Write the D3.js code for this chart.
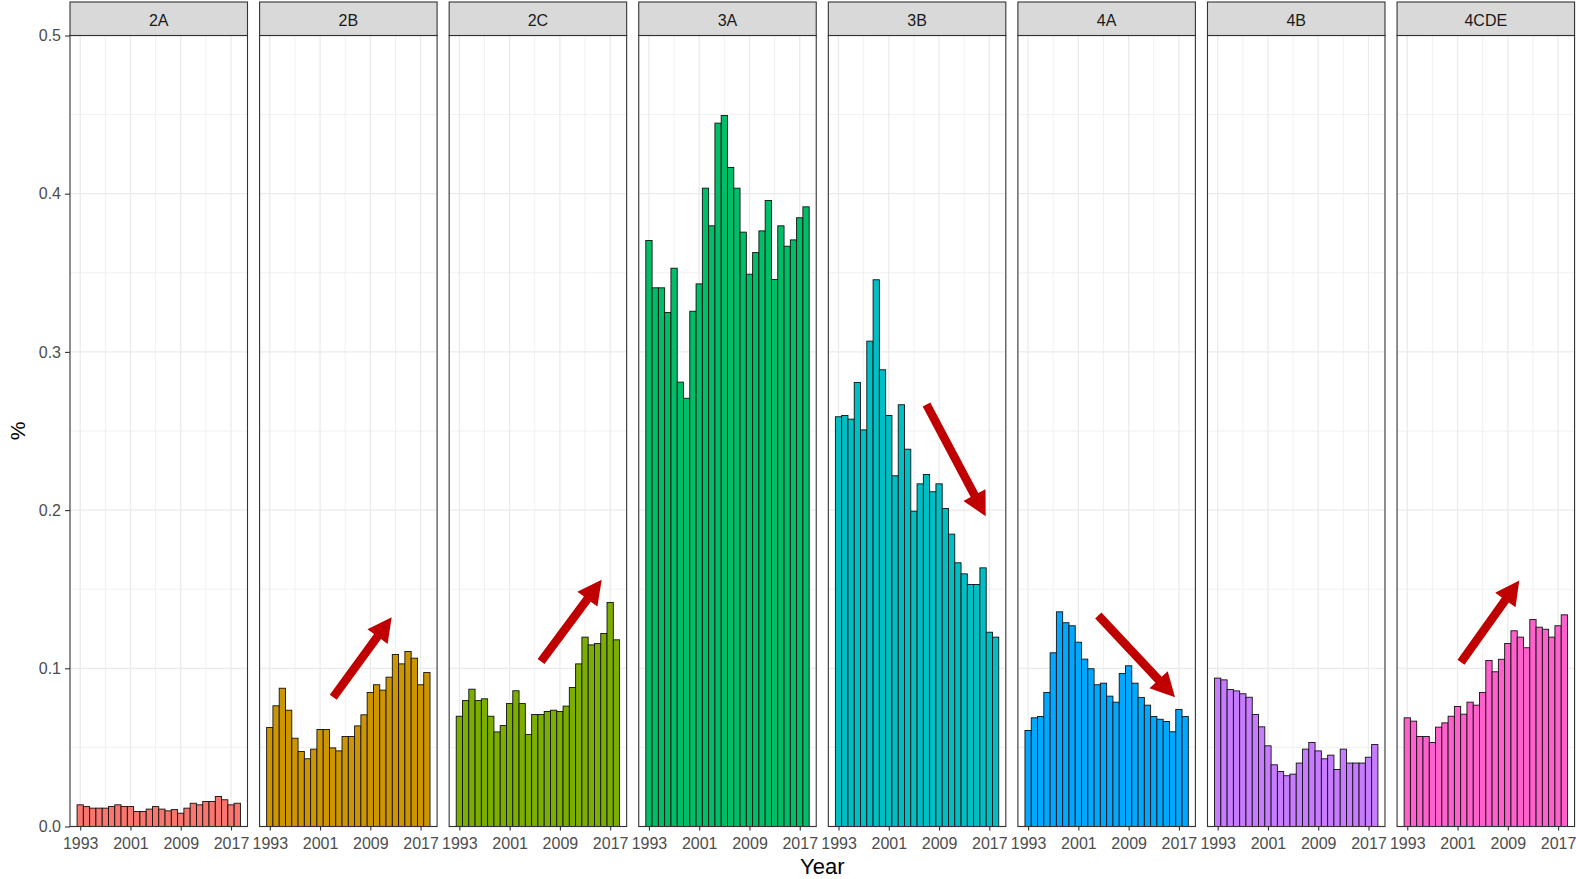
<!DOCTYPE html>
<html>
<head>
<meta charset="utf-8">
<script src="https://cdn.jsdelivr.net/npm/d3@7"></script>
<style>
  body { margin: 0; background: #fff; }
  svg { display: block; }
  text { font-family: "Liberation Sans", Arial, sans-serif; }
</style>
</head>
<body>
<svg id="chart" width="1576" height="879"></svg>
<script>
// ---- data ----
const years = [1993, 1994, 1995, 1996, 1997, 1998, 1999, 2000, 2001, 2002, 2003, 2004, 2005,
               2006, 2007, 2008, 2009, 2010, 2011, 2012, 2013, 2014, 2015, 2016, 2017, 2018];

const panels = ["2A", "2B", "2C", "3A", "3B", "4A", "4B", "4CDE"];

const share2A = [0.0137, 0.0126, 0.0116, 0.0116, 0.0116, 0.0126, 0.0137, 0.0126, 0.0126, 0.0095,
                 0.0095, 0.0110, 0.0126, 0.0110, 0.0099, 0.0107, 0.0084, 0.0116, 0.0147, 0.0137,
                 0.0158, 0.0158, 0.0190, 0.0169, 0.0137, 0.0147];
const share2B = [0.0626, 0.0763, 0.0874, 0.0735, 0.0558, 0.0474, 0.0428, 0.0489, 0.0613, 0.0613,
                 0.0497, 0.0478, 0.0569, 0.0569, 0.0636, 0.0706, 0.0847, 0.0896, 0.0862, 0.0944,
                 0.1087, 0.1028, 0.1106, 0.1064, 0.0896, 0.0973];
const share2C = [0.0697, 0.0796, 0.0868, 0.0796, 0.0807, 0.0697, 0.0598, 0.0638, 0.0777, 0.0858,
                 0.0777, 0.0582, 0.0708, 0.0708, 0.0727, 0.0735, 0.0727, 0.0761, 0.0879, 0.1028,
                 0.1197, 0.1148, 0.1157, 0.1220, 0.1416, 0.1180];
const share3A = [0.3704, 0.3405, 0.3405, 0.3249, 0.3529, 0.2809, 0.2707, 0.3257, 0.3430, 0.4035,
                 0.3797, 0.4446, 0.4494, 0.4166, 0.4035, 0.3757, 0.3491, 0.3628, 0.3765, 0.3957,
                 0.3458, 0.3797, 0.3668, 0.3708, 0.3848, 0.3917];
const share3B = [0.2590, 0.2598, 0.2575, 0.2807, 0.2507, 0.3068, 0.3456, 0.2887, 0.2598, 0.2217,
                 0.2666, 0.2385, 0.1993, 0.2166, 0.2225, 0.2116, 0.2166, 0.2010, 0.1848, 0.1667,
                 0.1597, 0.1530, 0.1530, 0.1635, 0.1228, 0.1197];
const share4A = [0.0607, 0.0687, 0.0695, 0.0847, 0.1098, 0.1357, 0.1288, 0.1269, 0.1165, 0.1058,
                 0.0997, 0.0896, 0.0906, 0.0824, 0.0786, 0.0967, 0.1016, 0.0906, 0.0816, 0.0767,
                 0.0695, 0.0678, 0.0664, 0.0599, 0.0740, 0.0695];
const share4B = [0.0938, 0.0927, 0.0866, 0.0857, 0.0839, 0.0817, 0.0708, 0.0630, 0.0510, 0.0390,
                 0.0348, 0.0321, 0.0331, 0.0401, 0.0489, 0.0531, 0.0478, 0.0428, 0.0451, 0.0360,
                 0.0489, 0.0401, 0.0401, 0.0401, 0.0438, 0.0518];
const share4CDE = [0.0687, 0.0666, 0.0569, 0.0569, 0.0531, 0.0628, 0.0655, 0.0697, 0.0759, 0.0710,
                   0.0786, 0.0767, 0.0847, 0.1049, 0.0978, 0.1057, 0.1157, 0.1237, 0.1197, 0.1130,
                   0.1308, 0.1260, 0.1247, 0.1197, 0.1269, 0.1338];

const seriesValues = [share2A, share2B, share2C, share3A, share3B, share4A, share4B, share4CDE];

const xTickLabels = [1993, 2001, 2009, 2017];
const xMinorBreaks = [1997, 2005, 2013];
const yTickLabels = [0.0, 0.1, 0.2, 0.3, 0.4, 0.5];
const yMinorBreaks = [0.05, 0.15, 0.25, 0.35, 0.45];

// trend arrows, given in data units (year, share) within a facet
const trendArrows = [
  { panel: "2B",   from: [2003.1, 0.0817], to: [2012.4, 0.1323] },
  { panel: "2C",   from: [2006.0, 0.1043], to: [2015.65, 0.1559] },
  { panel: "3B",   from: [2007.0, 0.2668], to: [2016.42, 0.1961] },
  { panel: "4A",   from: [2004.17, 0.1334], to: [2016.38, 0.0817] },
  { panel: "4CDE", from: [2001.55, 0.1039], to: [2010.83, 0.1555] }
];

// ---- styling / layout ----
const palette = ["#F8766D", "#CD9600", "#7CAE00", "#00BE67", "#00BFC4", "#00A9FF", "#C77CFF", "#FF61CC"];
const firstLeft = 70, panelW = 177.5, panelGap = 12.08;
const stripTop = 2, panelTop = 35.5, panelBottom = 826.5;
const arrowColor = "#C00000";

const svg = d3.select("#chart");

const y = d3.scaleLinear().domain([0, 0.5]).range([panelBottom, panelTop]);
const x = d3.scaleLinear().domain([years[0] - 0.5 - 1.125, years[years.length - 1] + 0.5 + 1.125])
            .range([0, panelW]);
const plotRight = firstLeft + panels.length * panelW + (panels.length - 1) * panelGap;
const panelX = d3.scaleBand().domain(panels)
                 .range([firstLeft, plotRight])
                 .paddingInner(panelGap / (panelW + panelGap)).paddingOuter(0);

panels.forEach((name, i) => {
  const g = svg.append("g").attr("transform", `translate(${panelX(name)},0)`);

  // background grid
  const grid = g.append("g");
  grid.selectAll("line.ymin").data(yMinorBreaks).join("line")
    .attr("x1", 0).attr("x2", panelW).attr("y1", d => y(d)).attr("y2", d => y(d))
    .attr("stroke", "#EBEBEB").attr("stroke-width", 0.7);
  grid.selectAll("line.xmin").data(xMinorBreaks).join("line")
    .attr("y1", panelTop).attr("y2", panelBottom).attr("x1", d => x(d)).attr("x2", d => x(d))
    .attr("stroke", "#EBEBEB").attr("stroke-width", 0.7);
  grid.selectAll("line.ymaj").data(yTickLabels).join("line")
    .attr("x1", 0).attr("x2", panelW).attr("y1", d => y(d)).attr("y2", d => y(d))
    .attr("stroke", "#EBEBEB").attr("stroke-width", 1.3);
  grid.selectAll("line.xmaj").data(xTickLabels).join("line")
    .attr("y1", panelTop).attr("y2", panelBottom).attr("x1", d => x(d)).attr("x2", d => x(d))
    .attr("stroke", "#EBEBEB").attr("stroke-width", 1.3);

  // bars
  const vals = seriesValues[i];
  g.append("g").selectAll("rect").data(years.map((yr, k) => ({ yr, v: vals[k] }))).join("rect")
    .attr("x", d => x(d.yr - 0.5))
    .attr("width", d => x(d.yr + 0.5) - x(d.yr - 0.5))
    .attr("y", d => y(d.v))
    .attr("height", d => y(0) - y(d.v))
    .attr("fill", palette[i])
    .attr("stroke", "#111")
    .attr("stroke-width", 0.9);

  // panel border
  g.append("rect").attr("x", 0).attr("y", panelTop).attr("width", panelW)
    .attr("height", panelBottom - panelTop).attr("fill", "none")
    .attr("stroke", "#333").attr("stroke-width", 1.1);

  // strip
  g.append("rect").attr("x", 0).attr("y", stripTop).attr("width", panelW)
    .attr("height", panelTop - stripTop).attr("fill", "#D9D9D9")
    .attr("stroke", "#333").attr("stroke-width", 1.1);
  g.append("text").attr("x", panelW / 2).attr("y", 25.5)
    .attr("text-anchor", "middle").attr("font-size", 16).attr("fill", "#1A1A1A")
    .text(name);

  // x axis
  const xa = g.append("g").attr("transform", `translate(0,${panelBottom})`)
    .call(d3.axisBottom(x).tickValues(xTickLabels).tickFormat(d3.format("d"))
      .tickSize(4).tickPadding(7));
  xa.select(".domain").remove();
  xa.selectAll(".tick line").attr("stroke", "#333").attr("stroke-width", 1.1);
  xa.selectAll(".tick text").attr("font-size", 16).attr("fill", "#4D4D4D")
    .attr("font-family", "Liberation Sans, Arial, sans-serif");

  // trend arrows
  trendArrows.filter(a => a.panel === name).forEach(a => {
    const x0 = x(a.from[0]), y0 = y(a.from[1]), x1 = x(a.to[0]), y1 = y(a.to[1]);
    const dx = x1 - x0, dy = y1 - y0, len = Math.hypot(dx, dy);
    const ux = dx / len, uy = dy / len, px = -uy, py = ux;
    const shaft = 4.3, headL = 24, headW = 12.5;
    const bx = x1 - ux * headL, by = y1 - uy * headL;
    const pts = [
      [x0 + px * shaft, y0 + py * shaft],
      [bx + px * shaft, by + py * shaft],
      [bx + px * headW, by + py * headW],
      [x1, y1],
      [bx - px * headW, by - py * headW],
      [bx - px * shaft, by - py * shaft],
      [x0 - px * shaft, y0 - py * shaft]
    ];
    g.append("polygon").attr("points", pts.map(p => p.join(",")).join(" "))
      .attr("fill", arrowColor);
  });
});

// y axis on the first facet
const ya = svg.append("g").attr("transform", `translate(${firstLeft},0)`)
  .call(d3.axisLeft(y).tickValues(yTickLabels).tickFormat(d3.format(".1f"))
    .tickSize(5).tickPadding(4));
ya.select(".domain").remove();
ya.selectAll(".tick line").attr("stroke", "#333").attr("stroke-width", 1.1);
ya.selectAll(".tick text").attr("font-size", 16).attr("fill", "#4D4D4D")
  .attr("font-family", "Liberation Sans, Arial, sans-serif");

// axis titles
svg.append("text")
  .attr("transform", `translate(25,${(panelTop + panelBottom) / 2}) rotate(-90)`)
  .attr("text-anchor", "middle").attr("font-size", 21).attr("fill", "#000")
  .text("%");
svg.append("text")
  .attr("x", (firstLeft + plotRight) / 2)
  .attr("y", 874).attr("text-anchor", "middle").attr("font-size", 22).attr("fill", "#000")
  .text("Year");
</script>
</body>
</html>
